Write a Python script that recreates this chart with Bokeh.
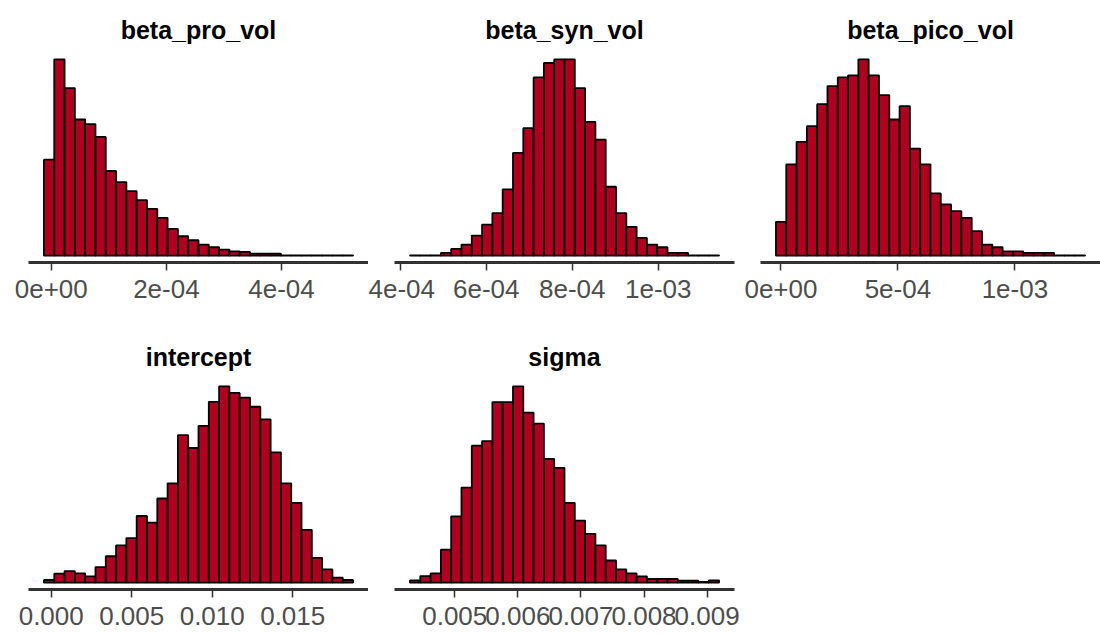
import numpy as np
from bokeh.plotting import figure
from bokeh.layouts import row, column
from bokeh.models import FixedTicker, Range1d, CustomJSTickFormatter
from bokeh.embed import file_html
from bokeh.resources import INLINE

# ---- data ----
titles = ["beta_pro_vol", "beta_syn_vol", "beta_pico_vol", "intercept", "sigma"]

# first bin left edge and bin width for each parameter (30 bins)
bin_starts = [-1.27e-5, 4.226e-4, -2.13e-5, -4.52e-4, 0.00429]
bin_widths = [1.79e-5, 2.396e-5, 4.404e-5, 6.4e-4, 1.633e-4]

counts_pro = [287, 587, 501, 407, 393, 355, 253, 220, 193, 166, 140, 113, 80, 58, 46,
              33, 25, 18, 13, 11, 6, 6, 6, 1, 1, 1, 1, 1, 1, 1]
counts_syn = [1, 1, 1, 8, 20, 33, 60, 93, 127, 198, 307, 381, 533, 576, 587,
              587, 501, 400, 347, 206, 127, 86, 53, 33, 25, 8, 8, 1, 1, 1]
counts_pico = [101, 273, 340, 387, 453, 507, 533, 539, 587, 539, 480, 407, 447, 320, 273,
               186, 153, 133, 113, 73, 33, 25, 13, 13, 8, 8, 8, 1, 1, 1]
counts_intercept = [8, 27, 35, 28, 19, 47, 80, 113, 135, 202, 182, 255, 301, 447, 408,
                    475, 548, 595, 575, 561, 533, 495, 395, 301, 242, 160, 75, 40, 15, 8]
counts_sigma = [7, 20, 28, 100, 201, 288, 415, 429, 547, 547, 595, 515, 482, 375, 348,
                242, 188, 148, 113, 67, 40, 28, 19, 11, 11, 11, 6, 6, 2, 7]
all_counts = [counts_pro, counts_syn, counts_pico, counts_intercept, counts_sigma]

tick_values = [[0.0, 2e-4, 4e-4],
               [4e-4, 6e-4, 8e-4, 1e-3],
               [0.0, 5e-4, 1e-3],
               [0.0, 0.005, 0.010, 0.015],
               [0.005, 0.006, 0.007, 0.008, 0.009]]
tick_labels = [["0e+00", "2e-04", "4e-04"],
               ["4e-04", "6e-04", "8e-04", "1e-03"],
               ["0e+00", "5e-04", "1e-03"],
               ["0.000", "0.005", "0.010", "0.015"],
               ["0.005", "0.006", "0.007", "0.008", "0.009"]]

FONT = "Liberation Sans"
FILL = "#AF001F"
AXIS_COL = "#333333"
TEXT_COL = "#4D4D4D"


def make_panel(i, border_left, border_right, border_top, border_bottom):
    c = np.array(all_counts[i], dtype=float)
    n = len(c)
    left = bin_starts[i] + np.arange(n) * bin_widths[i]
    right = left + bin_widths[i]
    span = right[-1] - left[0]
    m = c.max()
    p = figure(frame_width=340, frame_height=213,
               x_range=Range1d(left[0] - 0.05 * span, right[-1] + 0.05 * span),
               y_range=Range1d(-0.035 * m, 1.05 * m),
               output_backend="svg", toolbar_location=None,
               title=titles[i],
               min_border_left=border_left, min_border_right=border_right,
               min_border_top=border_top, min_border_bottom=border_bottom)
    p.quad(left=left, right=right, bottom=0, top=c,
           fill_color=FILL, line_color="black", line_width=1.8)
    p.title.text_font = FONT
    p.title.text_font_size = "25px"
    p.title.text_font_style = "bold"
    p.title.text_color = "black"
    p.title.align = "center"
    p.title.standoff = 12
    p.yaxis.visible = False
    p.grid.visible = False
    p.outline_line_color = None
    ax = p.xaxis[0]
    ax.ticker = FixedTicker(ticks=tick_values[i])
    ax.formatter = CustomJSTickFormatter(
        args=dict(vals=tick_values[i], labels=tick_labels[i]),
        code="""
        for (let k = 0; k < vals.length; k++) {
            if (Math.abs(vals[k] - tick) < 1e-9) { return labels[k]; }
        }
        return "";
        """)
    ax.axis_line_width = 3
    ax.axis_line_color = AXIS_COL
    ax.major_tick_line_color = AXIS_COL
    ax.major_tick_line_width = 1.5
    ax.major_tick_out = 8
    ax.major_tick_in = 0
    ax.minor_tick_line_color = None
    ax.major_label_text_font = FONT
    ax.major_label_text_font_size = "26px"
    ax.major_label_text_color = TEXT_COL
    ax.major_label_standoff = 9
    return p


p1 = make_panel(0, 28, 0, 49, 65)
p2 = make_panel(1, 26, 6, 49, 65)
p3 = make_panel(2, 20, 0, 49, 65)
p4 = make_panel(3, 28, 0, 49, 48)
p5 = make_panel(4, 26, 6, 49, 48)

layout = column(row(p1, p2, p3), row(p4, p5))

with open("out.html", "w") as f:
    f.write(file_html(layout, INLINE))
